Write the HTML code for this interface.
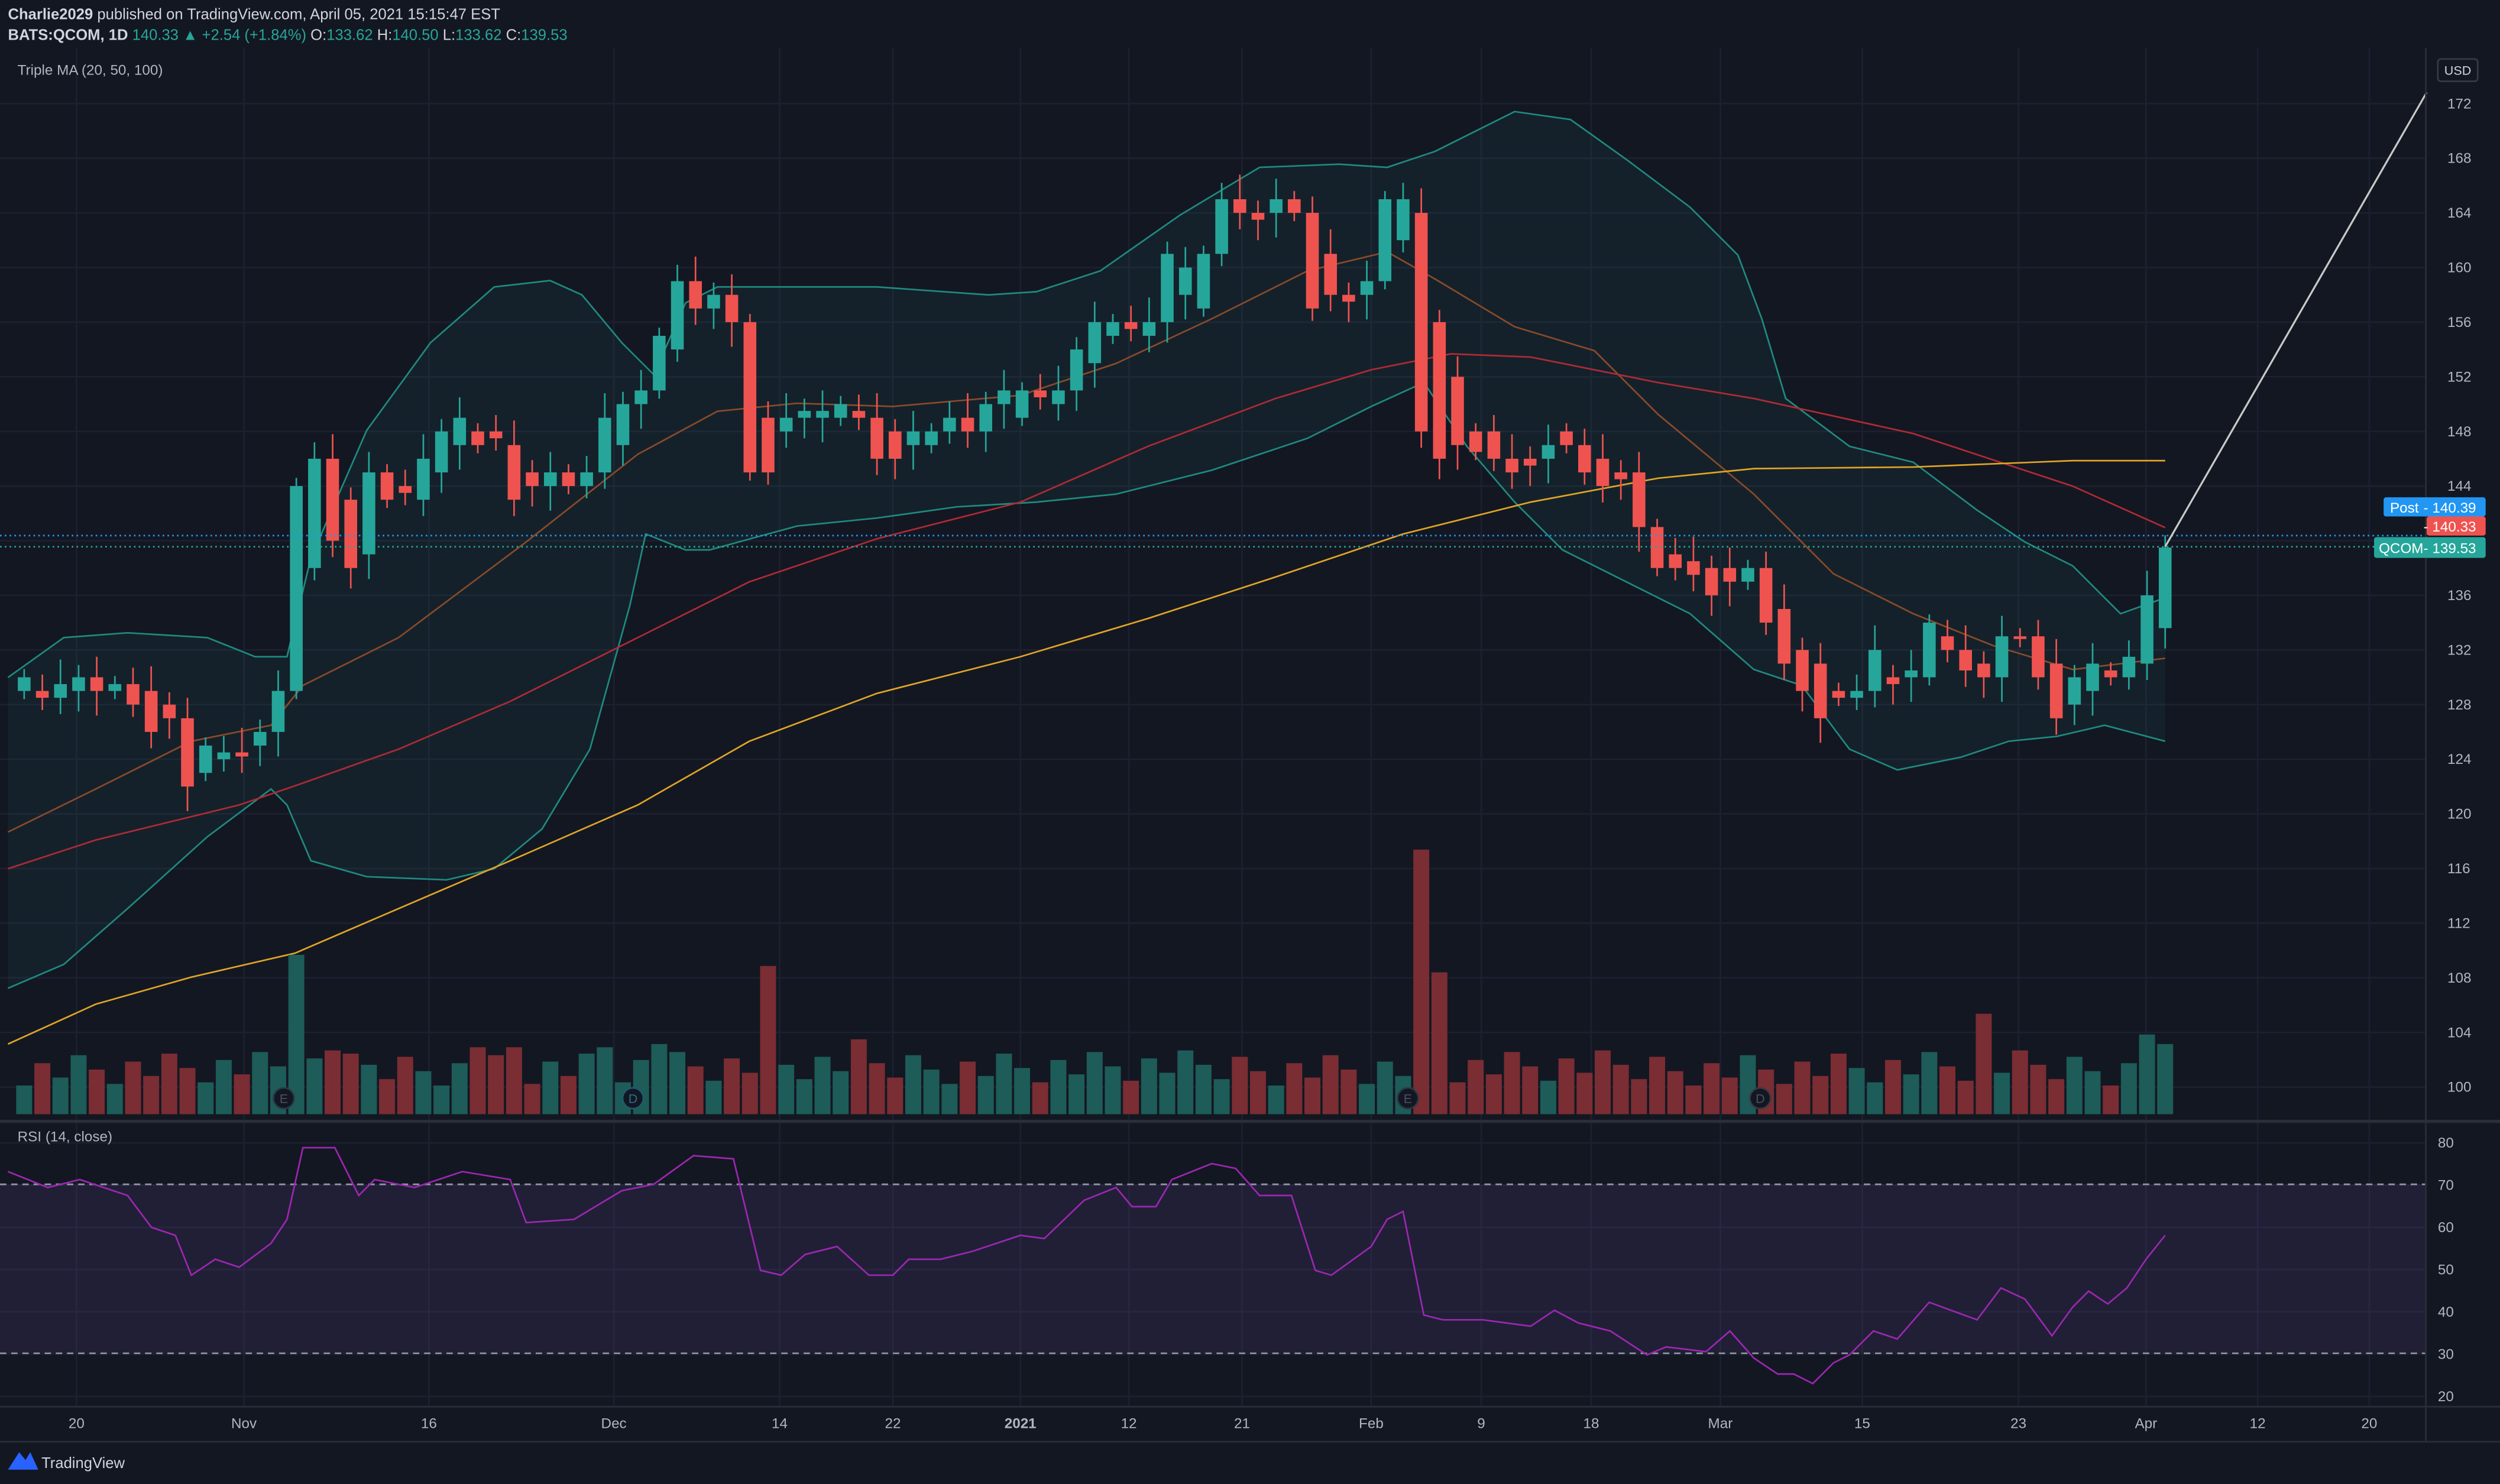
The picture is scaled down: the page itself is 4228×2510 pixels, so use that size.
<!DOCTYPE html>
<html><head><meta charset="utf-8"><style>
html,body{margin:0;padding:0;background:#131722;}
svg{display:block;}
text{font-family:"Liberation Sans",sans-serif;}
</style></head><body>
<svg id="s" xmlns="http://www.w3.org/2000/svg" width="4228" height="2510" viewBox="0 0 1568 931" preserveAspectRatio="none">
<rect width="1568" height="931" fill="#131722"/>
<g id="grid" stroke="#1c2030" stroke-width="1"></g>
<path d="M5,425 L40,400 L80,397 L130,400 L160,412 L180,412 L195,350 L230,270 L270,215 L310,180 L345,176 L365,185 L390,215 L410,235 L430,190 L450,180 L550,180 L620,185 L650,183 L690,170 L740,135 L790,105 L840,103 L870,105 L900,95 L950,70 L985,75 L1020,100 L1060,130 L1090,160 L1105,200 L1120,250 L1160,280 L1200,290 L1240,320 L1270,340 L1300,355 L1330,385 L1358,375 L1358,465 L1320,455 L1290,462 L1260,465 L1230,475 L1190,483 L1160,470 L1130,430 L1100,420 L1060,385 L1020,365 L980,345 L950,315 L920,280 L893,240 L860,255 L820,275 L760,295 L700,310 L650,315 L600,318 L550,325 L500,330 L445,345 L430,345 L405,335 L395,380 L370,470 L340,520 L310,545 L280,552 L230,550 L195,540 L180,505 L170,495 L130,525 L80,570 L40,605 L5,620 Z" fill="#26a69a" fill-opacity="0.07"/>
<polyline fill="none" stroke="#1f8a80" stroke-width="1" points="5,425 40,400 80,397 130,400 160,412 180,412 195,350 230,270 270,215 310,180 345,176 365,185 390,215 410,235 430,190 450,180 550,180 620,185 650,183 690,170 740,135 790,105 840,103 870,105 900,95 950,70 985,75 1020,100 1060,130 1090,160 1105,200 1120,250 1160,280 1200,290 1240,320 1270,340 1300,355 1330,385 1358,375"/>
<polyline fill="none" stroke="#1f8a80" stroke-width="1" points="5,620 40,605 80,570 130,525 170,495 180,505 195,540 230,550 280,552 310,545 340,520 370,470 395,380 405,335 430,345 445,345 500,330 550,325 600,318 650,315 700,310 760,295 820,275 860,255 893,240 920,280 950,315 980,345 1020,365 1060,385 1100,420 1130,430 1160,470 1190,483 1230,475 1260,465 1290,462 1320,455 1358,465"/>
<polyline fill="none" stroke="#8a4a2a" stroke-width="1" points="5,522 60,495 120,465 170,455 190,430 250,400 330,340 400,285 450,258 500,253 560,255 640,248 700,228 760,200 820,170 870,158 900,175 950,205 1000,220 1040,260 1100,310 1150,360 1200,385 1250,405 1300,420 1358,413"/>
<polyline fill="none" stroke="#b02a35" stroke-width="1" points="5,545 60,527 150,505 185,493 250,470 320,440 400,400 470,365 550,338 640,315 720,280 800,250 860,232 910,222 960,224 1040,240 1100,250 1200,272 1300,305 1358,331"/>
<polyline fill="none" stroke="#e0a526" stroke-width="1" points="5,655 60,630 120,613 185,598 250,570 320,540 400,505 470,465 550,435 640,412 720,388 800,362 880,335 960,315 1040,300 1100,294 1200,293 1300,289 1358,289"/>
<g id="vol"></g>
<g id="cdl"></g>
<line x1="0" y1="336" x2="1522" y2="336" stroke="#2196f3" stroke-width="1" stroke-dasharray="1,2"/>
<line x1="0" y1="343" x2="1522" y2="343" stroke="#26a69a" stroke-width="1" stroke-dasharray="1,2"/>
<line x1="1358" y1="343" x2="1522" y2="58" stroke="#c8c8c8" stroke-width="1.2"/>
<g font-size="8" fill="#4a5060" text-anchor="middle">
<circle cx="178" cy="689" r="6.5" fill="#131722" stroke="#2a3a48"/><text x="178" y="692">E</text>
<circle cx="397" cy="689" r="6.5" fill="#131722" stroke="#1f5a70"/><text x="397" y="692" fill="#2a6f88">D</text>
<circle cx="883" cy="689" r="6.5" fill="#131722" stroke="#2a3a48"/><text x="883" y="692">E</text>
<circle cx="1104" cy="689" r="6.5" fill="#131722" stroke="#3a3a48"/><text x="1104" y="692">D</text>
</g>
<rect x="0" y="743" width="1522" height="106" fill="#7e57c2" fill-opacity="0.13"/>
<line x1="0" y1="743" x2="1522" y2="743" stroke="#9598a1" stroke-dasharray="4,3"/>
<line x1="0" y1="849" x2="1522" y2="849" stroke="#9598a1" stroke-dasharray="4,3"/>
<polyline fill="none" stroke="#9c27b0" stroke-width="1" points="5,735 30,745 50,740 80,750 95,770 110,775 120,800 135,790 150,795 170,780 180,765 190,720 210,720 225,750 235,740 260,745 290,735 320,740 330,767 360,765 390,747 410,743 435,725 460,727 477,797 490,800 505,787 525,782 545,800 560,800 570,790 590,790 610,785 640,775 655,777 680,753 700,745 710,757 725,757 735,740 760,730 775,733 790,750 810,750 825,797 835,800 860,782 870,765 880,760 893,825 905,828 930,828 960,832 975,822 990,830 1010,835 1033,850 1045,845 1070,848 1085,835 1100,852 1115,862 1125,862 1137,868 1150,855 1160,850 1175,835 1190,840 1210,817 1240,828 1255,808 1270,815 1287,838 1300,820 1310,810 1322,818 1334,808 1346,790 1358,775"/>
<line x1="0" y1="703.5" x2="1568" y2="703.5" stroke="#2a2e39" stroke-width="2"/>
<line x1="1521.5" y1="30" x2="1521.5" y2="904" stroke="#2a2e39"/>
<line x1="0" y1="882.5" x2="1568" y2="882.5" stroke="#2a2e39"/>
<line x1="0" y1="904.5" x2="1568" y2="904.5" stroke="#2a2e39"/>
<g id="axis" font-size="9" fill="#b2b5be"></g>
<text x="5" y="12" font-size="9.5" fill="#d1d4dc"><tspan font-weight="bold">Charlie2029</tspan> published on TradingView.com, April 05, 2021 15:15:47 EST</text>
<text x="5" y="25" font-size="9.5" fill="#d1d4dc"><tspan font-weight="bold">BATS:QCOM, 1D</tspan> <tspan fill="#26a69a">140.33 ▲ +2.54 (+1.84%)</tspan> O:<tspan fill="#26a69a">133.62</tspan> H:<tspan fill="#26a69a">140.50</tspan> L:<tspan fill="#26a69a">133.62</tspan> C:<tspan fill="#26a69a">139.53</tspan></text>
<text x="11" y="47" font-size="9" fill="#b2b5be">Triple MA (20, 50, 100)</text>
<text x="11" y="716" font-size="9" fill="#b2b5be">RSI (14, close)</text>
<rect x="1529" y="37" width="25" height="14" rx="2" fill="#131722" stroke="#363a45"/>
<text x="1541.5" y="47" font-size="8" fill="#d1d4dc" text-anchor="middle">USD</text>
<rect x="1495" y="312" width="64" height="12" rx="1.5" fill="#2196f3"/>
<text x="1499" y="321.5" font-size="9" fill="#fff">Post</text><text x="1520" y="321.5" font-size="9" fill="#fff">- 140.39</text>
<rect x="1522" y="324" width="37" height="12" rx="1.5" fill="#ef5350"/>
<text x="1520" y="333.5" font-size="9" fill="#fff">- 140.33</text>
<rect x="1489" y="337" width="70" height="13" rx="1.5" fill="#26a69a"/>
<text x="1492" y="347" font-size="9" fill="#fff">QCOM</text><text x="1520" y="347" font-size="9" fill="#fff">- 139.53</text>
<path d="M5,922 L12,911 L16,916 L19,911 L24,922 Z" fill="#2962ff"/>
<text x="26" y="921" font-size="9.5" fill="#d1d4dc">TradingView</text>
</svg>
<script>
var NS="http://www.w3.org/2000/svg";
function el(p,t,a,txt){var e=document.createElementNS(NS,t);for(var k in a)e.setAttribute(k,a[k]);if(txt!==undefined)e.textContent=txt;document.getElementById(p).appendChild(e);return e;}
function Y(p){return 65+(172-p)*8.569;}
function R(r){return 717+(80-r)*2.65;}
var xs=[48,153,269,385,489,560,640,708,779,860,929,998,1079,1168,1266,1346,1416,1486];
xs.forEach(function(x){el("grid","line",{x1:x,y1:30,x2:x,y2:882});});
for(var p=100;p<=172;p+=4){var y=Y(p);el("grid","line",{x1:0,y1:y,x2:1522,y2:y});if(p!=140)el("axis","text",{x:1535,y:y+3},""+p);}
[80,70,60,50,40,30,20].forEach(function(r){var y=R(r);el("grid","line",{x1:0,y1:y,x2:1522,y2:y});el("axis","text",{x:1529,y:y+3},""+r);});
var lab=["20","Nov","16","Dec","14","22","2021","12","21","Feb","9","18","Mar","15","23","Apr","12","20"];
xs.forEach(function(x,i){var t=el("axis","text",{x:x,y:896,"text-anchor":"middle"},lab[i]);if(lab[i]=="2021")t.setAttribute("font-weight","bold");});
var d=[[129,130],[129,128.5],[128.5,129.5],[129,130],[130,129],[129,129.5],[129.5,128],[129,126],[128,127],[127,122],[123,125],[124,124.5],[124.5,124.2],[125,126],[126,129],[129,144],[138,146],[146,140],[143,138],[139,145],[145,143],[144,143.5],[143,146],[145,148],[147,149],[148,147],[148,147.5],[147,143],[145,144],[144,145],[145,144],[144,145],[145,149],[147,150],[150,151],[151,155],[154,159],[159,157],[157,158],[158,156],[156,145],[149,145],[148,149],[149,149.5],[149,149.5],[149,150],[149.5,149],[149,146],[148,146],[147,148],[147,148],[148,149],[149,148],[148,150],[150,151],[149,151],[151,150.5],[150,151],[151,154],[153,156],[155,156],[156,155.5],[155,156],[156,161],[158,160],[157,161],[161,165],[165,164],[164,163.5],[164,165],[165,164],[164,157],[161,158],[158,157.5],[158,159],[159,165],[162,165],[164,148],[156,146],[152,147],[148,146.5],[148,146],[146,145],[146,145.5],[146,147],[148,147],[147,145],[146,144],[145,144.5],[145,141],[141,138],[139,138],[138.5,137.5],[138,136],[138,137],[137,138],[138,134],[135,131],[132,129],[131,127],[129,128.5],[128.5,129],[129,132],[130,129.5],[130,130.5],[130,134],[133,132],[132,130.5],[131,130],[130,133],[133,132.8],[133,130],[131,127],[128,130],[129,131],[130.5,130],[130,131.5],[131,136],[133.6,139.5]];
var N=d.length;
function X(i){return 1358-(N-1-i)*11.38;}
var sp={186:100,477:93,893:166,905:89,534:47,1242:63,1346:50,1358:44,210:40,221:38,302:42,327:42,384:42,419:44};
for(var i=0;i<N;i++){
 var o=d[i][0],c=d[i][1],up=c>=o,x=X(i);
 var col=up?"#26a69a":"#ef5350";
 var hi=Math.max(o,c)+0.6+((i*7)%5)*0.3,lo=Math.min(o,c)-0.6-((i*11)%5)*0.3;
 var vh=18+((i*37)%23);
 for(var k in sp){if(Math.abs(+k-x)<5.7)vh=sp[k];}
 el("vol","rect",{x:x-5,y:699-vh,width:10,height:vh,fill:up?"#1d5c58":"#7a2d33"});
 el("cdl","line",{x1:x,y1:Y(hi),x2:x,y2:Y(lo),stroke:col,"stroke-width":1});
 var y1=Y(Math.max(o,c)),y2=Y(Math.min(o,c));
 el("cdl","rect",{x:x-4,y:y1,width:8,height:Math.max(1,y2-y1),fill:col});
}
</script>
</body></html>
